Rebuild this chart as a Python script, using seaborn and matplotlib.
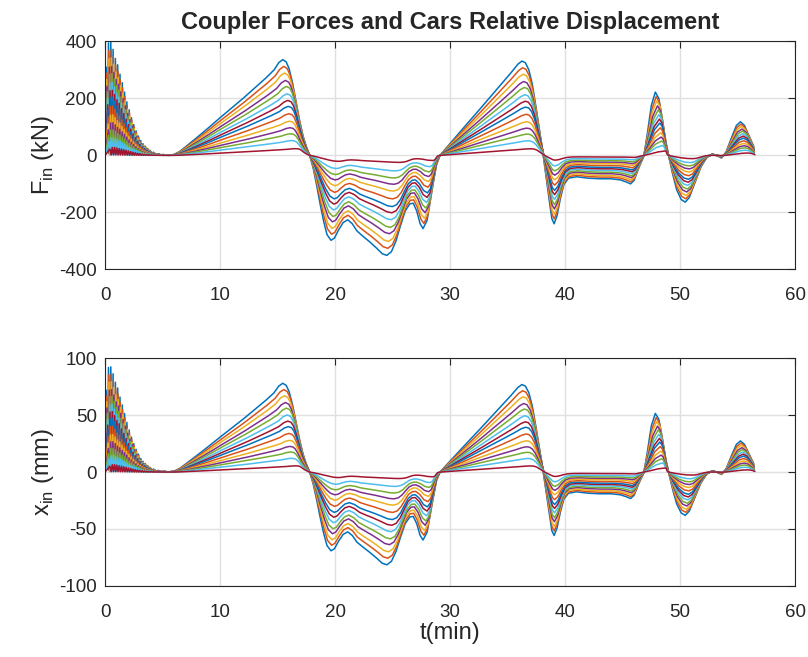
import numpy as np
import pandas as pd
import matplotlib
matplotlib.use("Agg")
import matplotlib.pyplot as plt
import seaborn as sns

# MATLAB default colour order, cycled over the couplers
MATLAB_COLORS = ['#0072BD', '#D95319', '#EDB120', '#7E2F8E', '#77AC30', '#4DBEEE', '#A2142F']

# start-up oscillation of the most loaded coupler (t in min)
T_TRANS = [0.0, 0.1, 0.2, 0.3, 0.4, 0.5, 0.6, 0.7, 0.8, 0.9,
           1.0, 1.1, 1.2, 1.3, 1.4, 1.5, 1.6, 1.7, 1.8, 1.9,
           2.0, 2.1, 2.2, 2.3, 2.4, 2.5, 2.6, 2.7, 2.8, 2.9,
           3.0, 3.1, 3.2, 3.3, 3.4, 3.5, 3.6, 3.7, 3.8, 3.9,
           4.0, 4.2, 4.4, 4.6, 4.8, 5.0]
F_TRANS = [0, 310, 15, 395, 22, 398, 22, 372, 20, 340,
           18, 318, 16, 285, 14, 255, 12, 222, 10, 188,
           9, 160, 8, 132, 7, 108, 6, 86, 5, 68,
           4, 52, 3, 41, 3, 32, 2, 24, 2, 18,
           3, 11, 2, 6, 1, 3]
X_TRANS = [0, 72, 3.5, 92, 5, 92.5, 5, 86.5, 4.5, 79,
           4, 74, 3.7, 66, 3.3, 59, 2.8, 51.5, 2.3, 43.7,
           2.1, 37, 1.9, 30.7, 1.6, 25, 1.4, 20, 1.2, 15.8,
           0.9, 12, 0.7, 9.5, 0.7, 7.4, 0.5, 5.6, 0.5, 4.2,
           0.7, 2.6, 0.5, 1.4, 0.2, 0.7]

# rest of the run, most loaded coupler
T_MAIN = [5.5, 6.0, 6.5, 7.0, 8.0, 9.0, 10.0, 11.0, 12.0, 13.0,
          14.0, 14.7, 15.1, 15.45, 15.75, 16.0, 16.3, 16.6, 16.9, 17.2,
          17.5, 17.8, 18.1, 18.4, 18.7, 19.0, 19.3, 19.65, 19.95, 20.3,
          20.7, 21.1, 21.5, 21.9, 22.4, 23.0, 23.6, 24.1, 24.5, 24.9,
          25.3, 25.7, 26.1, 26.5, 26.8, 27.1, 27.4, 27.65, 28.0, 28.4,
          28.8, 29.1, 29.5, 30.5, 31.5, 32.5, 33.5, 34.5, 35.3, 35.9,
          36.25, 36.55, 36.85, 37.15, 37.45, 37.75, 38.05, 38.35, 38.65, 38.85,
          39.05, 39.3, 39.6, 39.9, 40.3, 41.0, 42.0, 43.0, 44.0, 44.8,
          45.3, 45.7, 46.0, 46.4, 46.85, 47.15, 47.5, 47.85, 48.15, 48.45,
          48.75, 49.0, 49.35, 49.7, 50.1, 50.45, 50.8, 51.3, 51.8, 52.3,
          52.8, 53.2, 53.6, 54.0, 54.5, 54.9, 55.25, 55.6, 56.0, 56.4]
F_MAIN = [1, 3, 14, 30, 63, 97, 132, 166, 200, 236,
          272, 300, 325, 336, 328, 305, 255, 190, 125, 70,
          30, 0, -45, -105, -170, -230, -278, -298, -290, -262,
          -236, -226, -240, -265, -283, -303, -325, -345, -351, -338,
          -300, -245, -195, -170, -168, -195, -240, -257, -228, -130,
          -35, -2, 18, 65, 112, 158, 205, 252, 290, 320,
          331, 325, 300, 250, 175, 95, 15, -75, -165, -222,
          -240, -212, -150, -102, -80, -75, -80, -82, -82, -86,
          -93, -100, -88, -45, -2, 75, 175, 222, 200, 130,
          50, 0, -65, -120, -155, -164, -148, -95, -42, -8,
          5, 0, -9, 12, 65, 105, 118, 105, 68, 32]
X_MAIN = [0.2, 0.7, 3.3, 7.0, 14.7, 22.6, 30.7, 38.6, 46.5, 54.9,
          63.3, 69.8, 75.6, 78.1, 76.3, 70.9, 59.3, 44.2, 29.1, 16.3,
          7.0, 0.0, -10.5, -24.4, -39.5, -53.5, -64.7, -69.3, -67.4, -60.9,
          -54.9, -52.6, -55.8, -61.6, -65.8, -70.5, -75.6, -80.2, -81.6, -78.6,
          -69.8, -57.0, -45.3, -39.5, -39.1, -45.3, -55.8, -59.8, -53.0, -30.2,
          -8.1, -0.5, 4.2, 15.1, 26.0, 36.7, 47.7, 58.6, 67.4, 74.4,
          77.0, 75.6, 69.8, 58.1, 40.7, 22.1, 3.5, -17.4, -38.4, -51.6,
          -55.8, -49.3, -34.9, -23.7, -18.6, -17.4, -18.6, -19.1, -19.1, -20.0,
          -21.6, -23.3, -20.5, -10.5, -0.5, 17.4, 40.7, 51.6, 46.5, 30.2,
          11.6, 0.0, -15.1, -27.9, -36.0, -38.1, -34.4, -22.1, -9.8, -1.9,
          1.2, 0.0, -2.1, 2.8, 15.1, 24.4, 27.4, 24.4, 15.8, 7.4]
# how much of each car's delay applies at each point (peaks lag, zero crossings don't)
LAG_W_MAIN = [0, 0, 0.2, 0.3, 0.4, 0.5, 0.6, 0.7, 0.8, 0.85,
              0.9, 0.95, 1.0, 1.0, 0.95, 0.85, 0.7, 0.55, 0.42, 0.3,
              0.15, 0, 0.1, 0.2, 0.3, 0.4, 0.5, 0.55, 0.5, 0.45,
              0.35, 0.3, 0.4, 0.5, 0.6, 0.75, 0.85, 0.95, 1.0, 0.95,
              0.85, 0.7, 0.55, 0.45, 0.4, 0.5, 0.6, 0.8, 0.6, 0.35,
              0.1, 0, 0.05, 0.15, 0.25, 0.35, 0.45, 0.52, 0.58, 0.62,
              0.65, 0.6, 0.5, 0.4, 0.3, 0.2, 0.12, 0.1, 0.1, 0.1,
              0.1, 0.15, 0.2, 0.25, 0.3, 0.3, 0.3, 0.3, 0.3, 0.3,
              0.3, 0.3, 0.2, 0.1, 0, 0.25, 0.55, 0.8, 0.6, 0.35,
              0.12, 0, 0.15, 0.35, 0.5, 0.6, 0.55, 0.4, 0.25, 0.1,
              0, 0, 0, 0.1, 0.3, 0.45, 0.55, 0.5, 0.35, 0.1]
LAG_W_TRANS = 0.3

# per coupler: load relative to the first one, and delay of its peaks (min)
CAR_SCALE = [1.0, 0.929, 0.860, 0.783, 0.720, 0.643, 0.574,
             0.512, 0.435, 0.357, 0.289, 0.226, 0.155, 0.070]
CAR_LAG = [0.0, 0.09, 0.15, 0.23, 0.32, 0.38, 0.44,
           0.48, 0.53, 0.58, 0.62, 0.67, 0.75, 1.1]


t_base = np.array(T_TRANS + T_MAIN, dtype=float)
f_base = np.array(F_TRANS + F_MAIN, dtype=float)
x_base = np.array(X_TRANS + X_MAIN, dtype=float)
w_base = np.array([0.0] + [LAG_W_TRANS] * (len(T_TRANS) - 1) + LAG_W_MAIN)

frames = []
for i, (scale, lag) in enumerate(zip(CAR_SCALE, CAR_LAG)):
    t = np.maximum.accumulate(t_base + lag * w_base)
    frames.append(pd.DataFrame({'t': t, 'F': f_base * scale,
                                'x': x_base * scale, 'car': f'c{i:02d}'}))
df = pd.concat(frames, ignore_index=True)

car_order = [f'c{i:02d}' for i in range(len(CAR_SCALE))]
palette = [MATLAB_COLORS[i % len(MATLAB_COLORS)] for i in range(len(CAR_SCALE))]

sns.set_theme(style="white")
plt.rcParams['font.family'] = ['Liberation Sans', 'DejaVu Sans']
plt.rcParams['mathtext.fontset'] = 'custom'
plt.rcParams['mathtext.rm'] = 'Liberation Sans'
plt.rcParams['axes.unicode_minus'] = False

fig = plt.figure(figsize=(8.08, 6.57), dpi=100)
ax1 = fig.add_axes([0.130, 0.590, 0.854, 0.347])
ax2 = fig.add_axes([0.130, 0.1085, 0.854, 0.346])

for ax, col in [(ax1, 'F'), (ax2, 'x')]:
    sns.lineplot(data=df, x='t', y=col, hue='car', hue_order=car_order,
                 palette=palette, sort=False, estimator=None, legend=False,
                 linewidth=1.1, ax=ax)
    ax.set_xlim(0, 60)
    ax.set_xticks(range(0, 61, 10))
    ax.grid(True, color='#e0e0e0', linewidth=1.0)
    ax.set_axisbelow(True)
    ax.tick_params(direction='in', top=True, right=True, length=5, width=0.8,
                   color='#262626', labelcolor='#262626', labelsize=13.5)
    ax.tick_params(axis='x', pad=13)
    ax.tick_params(axis='y', pad=6)
    for sp in ax.spines.values():
        sp.set_color('#262626')
        sp.set_linewidth(0.8)
    ax.set_xlabel('')

ax1.set_ylim(-400, 400)
ax1.set_yticks(range(-400, 401, 200))
ax1.set_ylabel('F$_{\\mathregular{in}}$ (kN)', fontsize=17, color='#262626', labelpad=2)
ax1.set_title('Coupler Forces and Cars Relative Displacement',
              fontsize=17, fontweight='bold', pad=9)

ax2.set_ylim(-100, 100)
ax2.set_yticks(range(-100, 101, 50))
ax2.set_ylabel('x$_{\\mathregular{in}}$ (mm)', fontsize=17, color='#262626', labelpad=2)
ax2.set_xlabel('t(min)', fontsize=17, color='#262626', labelpad=1)

fig.savefig('out.png', dpi=100)
